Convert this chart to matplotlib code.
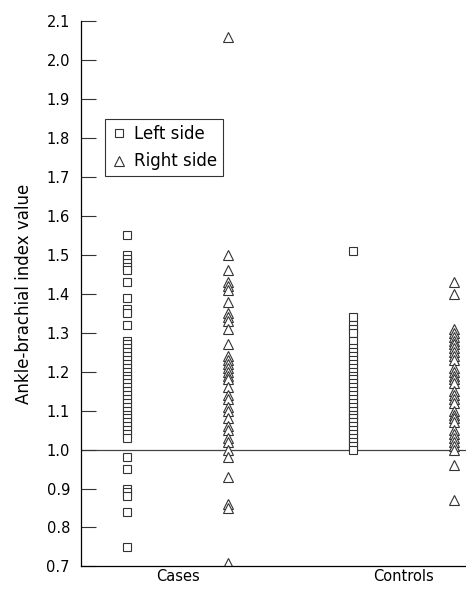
import numpy as np
import matplotlib
matplotlib.use("Agg")
from matplotlib import pyplot as plt

groups = ["Cases", "Controls"]

cases_left = [1.55, 1.50, 1.49, 1.48, 1.47, 1.46, 1.43, 1.39, 1.36, 1.35, 1.32,
              1.28, 1.27, 1.26, 1.25, 1.24, 1.23, 1.22, 1.21, 1.20, 1.19, 1.18,
              1.17, 1.16, 1.15, 1.14, 1.13, 1.12, 1.11, 1.10, 1.09, 1.08, 1.07,
              1.06, 1.05, 1.04, 1.03, 0.98, 0.95, 0.90, 0.89, 0.88, 0.84, 0.75]
cases_right = [2.06, 1.50, 1.46, 1.43, 1.42, 1.41, 1.38, 1.35, 1.34, 1.33, 1.31,
               1.27, 1.24, 1.23, 1.22, 1.21, 1.20, 1.19, 1.18, 1.16, 1.14, 1.13,
               1.11, 1.10, 1.08, 1.06, 1.05, 1.03, 1.02, 1.00, 0.98, 0.93, 0.86,
               0.85, 0.71]
controls_left = [1.51, 1.34, 1.32, 1.31, 1.30, 1.28, 1.26, 1.25, 1.24, 1.23, 1.22,
                 1.21, 1.20, 1.19, 1.18, 1.17, 1.16, 1.15, 1.14, 1.13, 1.12, 1.11,
                 1.10, 1.09, 1.08, 1.07, 1.06, 1.05, 1.04, 1.03, 1.02, 1.01, 1.00]
controls_right = [1.43, 1.40, 1.31, 1.30, 1.29, 1.28, 1.27, 1.26, 1.25, 1.24, 1.23,
                  1.21, 1.20, 1.19, 1.18, 1.17, 1.15, 1.14, 1.13, 1.12, 1.10, 1.09,
                  1.08, 1.07, 1.05, 1.04, 1.03, 1.02, 1.01, 1.00, 0.96, 0.87]

left_side = [cases_left, controls_left]
right_side = [cases_right, controls_right]

yticks = np.round(np.arange(0.7, 2.11, 0.1), 1)

plt.rcParams["font.family"] = ["DejaVu Sans"]

fig = plt.figure(figsize=(4.66, 5.90), dpi=100)
ax = fig.add_axes([0.174, 0.040, 0.826, 0.924])

off = 0.224
for i in range(len(groups)):
	ax.plot([i - off] * len(left_side[i]), left_side[i], "s", ms=6, mfc="white",
	        mec="#333333", mew=0.8, label="Left side" if i == 0 else None)
	ax.plot([i + off] * len(right_side[i]), right_side[i], "^", ms=6.5, mfc="white",
	        mec="#333333", mew=0.8, label="Right side" if i == 0 else None)

ax.axhline(1.0, color="#444444", lw=0.9, zorder=0)

ax.set_xlim(-0.428, 1.279)
ax.set_ylim(0.7, 2.1)
ax.set_yticks(yticks)
ax.set_yticklabels(["%.1f" % v for v in yticks], fontsize=10.5)
ax.set_xticks(range(len(groups)))
ax.set_xticklabels(groups, fontsize=10.5)
ax.tick_params(axis="y", direction="in", length=11, width=0.8, color="#333333", pad=8)
ax.tick_params(axis="x", length=0, pad=2)
ax.spines["top"].set_visible(False)
ax.spines["right"].set_visible(False)
ax.spines["left"].set_linewidth(0.9)
ax.spines["bottom"].set_linewidth(0.9)
ax.set_ylabel("Ankle-brachial index value", fontsize=12, labelpad=10)

leg = ax.legend(loc="upper left", bbox_to_anchor=(0.062, 0.82), fontsize=12,
                frameon=True, fancybox=False, edgecolor="black", borderpad=0.35,
                handletextpad=0.4, handlelength=1.0, labelspacing=0.55,
                borderaxespad=0)
leg.get_frame().set_linewidth(0.8)

fig.savefig("out.png", dpi=100)
